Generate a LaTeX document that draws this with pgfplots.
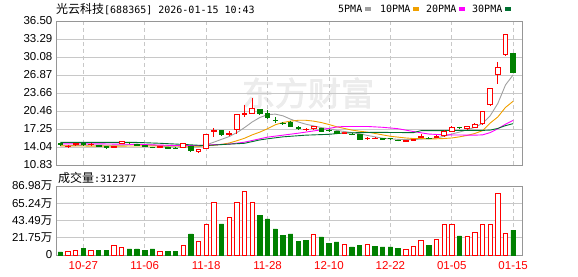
\documentclass[border=0pt]{standalone}
\usepackage{pgfplots}
\pgfplotsset{compat=1.18}
\usepackage{pgfplotstable}
\usepgfplotslibrary{statistics}
\usepackage{fontspec}
\setmainfont{Liberation Sans}
\newfontfamily\cjk{Noto Sans CJK SC}
\newfontfamily\cjkbold[FakeBold=2.5]{Noto Sans CJK SC}
\newfontfamily\mono{DejaVu Sans Mono}
\definecolor{upred}{RGB}{255,0,0}
\definecolor{dngreen}{RGB}{0,128,0}
\definecolor{maA}{RGB}{160,160,160}
\definecolor{maB}{RGB}{240,160,0}
\definecolor{maC}{RGB}{255,0,255}
\definecolor{maD}{RGB}{0,112,48}
\definecolor{gridc}{RGB}{200,200,200}
\definecolor{axisc}{RGB}{150,150,150}
\definecolor{wmark}{RGB}{236,236,236}

\pgfplotstableread{
i lo hi L H up
0 14.50 14.65 14.30 14.80 0
1 14.10 14.20 14.00 14.35 1
2 14.45 14.65 14.35 14.75 1
3 14.45 14.60 14.35 14.70 0
4 14.45 14.55 14.35 14.70 1
5 14.15 14.30 14.05 14.40 0
6 13.90 14.10 13.85 14.20 0
7 13.95 14.15 13.90 14.25 1
8 14.70 14.95 14.60 15.00 1
9 14.80 14.90 14.75 15.00 0
10 14.40 14.50 14.30 14.60 0
11 14.15 14.25 14.05 14.35 0
12 13.95 14.00 13.85 14.10 0
13 13.95 14.10 13.90 14.15 1
14 13.80 13.90 13.70 14.00 0
15 13.80 13.85 13.70 14.00 0
16 14.05 14.70 13.95 14.75 1
17 13.35 14.10 13.30 14.15 0
18 13.20 13.70 13.10 13.75 1
19 13.80 16.25 13.75 16.30 1
20 16.80 16.95 15.80 17.45 1
21 16.30 17.00 16.00 17.05 0
22 16.35 16.45 16.00 16.90 1
23 17.15 19.80 16.30 19.85 1
24 19.80 19.95 19.40 21.60 1
25 20.10 20.90 20.00 22.70 1
26 19.95 20.75 19.80 20.80 0
27 19.30 20.05 19.10 20.60 0
28 18.75 18.85 18.30 19.30 0
29 18.25 18.30 18.00 18.50 0
30 17.75 18.50 17.60 18.60 0
31 17.30 17.60 17.20 17.70 0
32 17.10 17.20 16.95 17.35 1
33 17.30 17.70 17.20 17.80 1
34 16.90 17.30 16.80 17.40 0
35 17.00 17.05 16.80 17.20 0
36 16.45 16.90 16.40 16.95 0
37 16.55 16.65 16.40 16.80 1
38 16.30 16.35 16.10 16.50 0
39 15.40 16.30 15.35 16.35 0
40 15.50 15.60 15.35 15.75 1
41 15.60 15.65 15.50 15.80 1
42 15.50 15.55 15.40 15.70 0
43 15.55 15.60 15.45 15.70 0
44 15.20 15.25 15.05 15.35 0
45 15.05 15.15 15.00 15.30 1
46 15.25 15.35 15.10 15.45 1
47 15.80 15.90 15.60 16.30 1
48 15.60 15.65 15.45 15.75 0
49 15.75 15.85 15.65 16.20 1
50 16.10 16.85 15.85 17.10 1
51 16.85 17.60 16.70 17.85 1
52 17.50 17.55 17.30 17.65 0
53 17.30 17.70 17.20 17.75 1
54 17.60 18.15 17.50 18.30 1
55 18.20 20.40 18.00 20.50 1
56 21.60 24.40 21.50 24.50 1
57 26.90 28.30 25.30 29.20 1
58 30.50 34.15 30.40 34.20 1
59 27.35 30.80 27.30 30.80 0
}\ohlc

\pgfplotsset{
  chartbase/.style={
    scale only axis, width=466pt,
    xmin=-0.56, xmax=60.15,
    xtick={3,11,19,27,35,43,51,59},
    major tick length=0pt,
    xmajorgrids, ymajorgrids,
    x grid style={color=gridc, line width=0.8pt, dash pattern=on 4pt off 3pt},
    y grid style={color=gridc, line width=0.8pt, solid},
    axis line style={color=axisc, line width=0.9pt},
    ticklabel style={font=\fontsize{11.5}{13}\selectfont},
    yticklabel style={inner sep=0pt, xshift=-3.5pt},
    clip=true,
  }
}

\begin{document}
\begin{tikzpicture}
\path[use as bounding box] (0pt,0pt) rectangle (578pt,276pt);
\node[text=wmark, font=\cjkbold\fontsize{33}{33}\selectfont, inner sep=0, anchor=center] at (308pt,183pt) {东方财富};

\begin{axis}[chartbase, at={(56pt,111pt)}, anchor=south west, height=144pt,
  ymin=10.83, ymax=36.50,
  ytick={10.83,14.04,17.25,20.46,23.66,26.87,30.08,33.29,36.50},
  yticklabels={10.83,14.04,17.25,20.46,23.66,26.87,30.08,33.29,36.50},
  xticklabels={}, boxplot/draw direction=y]
% MA5
\addplot[color=maA, line width=0.9pt, mark=none] coordinates {
(0,14.25)(2,14.3)(4,14.4)(6,14.35)(8,14.35)(10,14.55)(12,14.4)(14,14.1)(16,14.0)(18,14.05)(19,14.4)(20,14.9)(21,15.4)(22,15.9)(23,16.6)(24,17.5)(25,18.5)(26,19.3)(27,19.8)(28,19.9)(29,19.6)(30,19.0)(31,18.5)(32,18.1)(33,17.8)(34,17.5)(35,17.3)(36,17.0)(37,16.8)(38,16.6)(39,16.4)(40,16.1)(41,15.85)(42,15.6)(43,15.5)(44,15.4)(45,15.35)(46,15.35)(47,15.45)(48,15.5)(49,15.65)(50,15.95)(51,16.35)(52,16.7)(53,17.1)(54,17.55)(55,18.25)(56,19.6)(57,21.8)(58,25.1)(59,26.9)};
% MA10
\addplot[color=maB, line width=0.9pt, mark=none] coordinates {
(0,14.25)(4,14.2)(8,14.2)(12,14.25)(16,14.2)(18,14.2)(19,14.25)(20,14.35)(21,14.5)(22,14.75)(23,15.15)(24,15.6)(25,16.2)(26,16.7)(27,17.3)(28,18.0)(29,18.4)(30,18.65)(31,18.8)(32,18.8)(33,18.65)(34,18.4)(35,18.05)(36,17.65)(37,17.35)(38,17.05)(39,16.85)(40,16.7)(41,16.45)(42,16.2)(43,15.95)(44,15.8)(45,15.65)(46,15.55)(47,15.55)(48,15.5)(49,15.5)(50,15.55)(51,15.65)(52,15.85)(53,16.1)(54,16.45)(55,16.95)(56,18.3)(57,19.4)(58,21.1)(59,22.2)};
% MA20
\addplot[color=maC, line width=0.9pt, mark=none] coordinates {
(0,14.6)(5,14.6)(10,14.5)(15,14.3)(18,14.3)(19,14.4)(22,14.55)(24,14.9)(27,15.8)(31,16.5)(34,17.1)(36,17.6)(37,17.7)(40,17.7)(42,17.55)(44,17.3)(46,16.8)(48,16.35)(50,16.2)(54,16.15)(55,16.2)(56,16.6)(57,17.3)(58,18.1)(59,18.8)};
% MA30
\addplot[color=maD, line width=0.9pt, mark=none] coordinates {
(0,14.85)(10,14.85)(13,14.7)(16,14.5)(18,14.35)(19,14.3)(22,14.55)(24,14.7)(26,15.3)(27,15.5)(29,15.85)(32,16.15)(35,16.3)(37,16.55)(41,16.65)(46,16.6)(47,16.95)(55,17.0)(56,17.05)(57,17.35)(58,17.85)(59,18.2)};
% candles
\pgfplotsinvokeforeach{0,...,59}{
  \pgfplotstablegetelem{#1}{L}\of\ohlc \let\cL\pgfplotsretval
  \pgfplotstablegetelem{#1}{H}\of\ohlc \let\cH\pgfplotsretval
  \pgfplotstablegetelem{#1}{lo}\of\ohlc \let\clo\pgfplotsretval
  \pgfplotstablegetelem{#1}{hi}\of\ohlc \let\chi\pgfplotsretval
  \pgfplotstablegetelem{#1}{up}\of\ohlc
  \ifnum\pgfplotsretval=1
    \def\cdraw{upred}\def\cfill{white}%
  \else
    \def\cdraw{dngreen}\def\cfill{dngreen}%
  \fi
  \edef\doplot{\noexpand\addplot[draw=\cdraw, fill=\cfill, line width=0.8pt, solid,
      boxplot prepared={draw direction=y, draw position=#1, box extend=0.6, whisker extend=0,
        lower whisker=\cL, upper whisker=\cH, lower quartile=\clo, upper quartile=\chi, median=\clo}] coordinates {};}%
  \doplot
}
\end{axis}

\begin{axis}[chartbase, at={(56pt,21pt)}, anchor=south west, height=69pt,
  ymin=0, ymax=86.98,
  ytick={0,21.75,43.49,65.24,86.98},
  yticklabels={0,21.75{\cjk 万},43.49{\cjk 万},65.24{\cjk 万},86.98{\cjk 万}},
  xticklabels={10-27,11-06,11-18,11-28,12-10,12-22,01-05,01-15},
  xticklabel style={text=upred, inner sep=0pt, yshift=-6.5pt}]
\addplot[ybar, bar width=0.57, bar shift=0pt, draw=upred, fill=white, line width=0.8pt] coordinates {
(1,5.0)(2,5.9)(4,5.9)(7,12.2)(8,9.7)(13,5.0)(16,12.2)(18,17.6)(19,38.7)(20,66.4)(22,47.5)(23,66.4)(24,80.3)(25,66.4)(33,26.1)(37,13.4)(40,13.4)(45,7.1)(46,10.9)(47,18.5)(49,19.7)(50,38.7)(51,38.7)(53,23.5)(54,29.0)(55,38.7)(56,38.7)(57,77.7)(58,27.3)};
\addplot[ybar, bar width=0.57, bar shift=0pt, draw=dngreen, fill=dngreen, line width=0.8pt] coordinates {
(0,3.8)(3,8.8)(5,6.3)(6,6.3)(9,7.6)(10,7.6)(11,6.3)(12,7.6)(14,5.0)(15,4.2)(17,26.5)(21,39.1)(26,50.4)(27,45.4)(28,32.8)(29,25.2)(30,26.5)(31,16.8)(32,18.9)(34,22.7)(35,15.1)(36,16.4)(38,10.1)(39,12.2)(41,11.3)(42,10.1)(43,10.1)(44,8.8)(48,12.6)(52,24.0)(59,31.24)};
\end{axis}

% header
\node[anchor=base west, inner sep=0] at (56pt,262pt) {{\cjk\fontsize{12}{12}\selectfont 光云科技}{\mono\fontsize{10}{10}\selectfont[688365] 2026-01-15 10:43}};
\node[anchor=base west, inner sep=0, font=\mono\fontsize{10}{10}\selectfont] at (338pt,263pt) {5PMA\hspace{3pt}\textcolor{maA}{\rule[2pt]{5.5pt}{3.5pt}}};
\node[anchor=base west, inner sep=0, font=\mono\fontsize{10}{10}\selectfont] at (380pt,263pt) {10PMA\hspace{3pt}\textcolor{maB}{\rule[2pt]{5.5pt}{3.5pt}}};
\node[anchor=base west, inner sep=0, font=\mono\fontsize{10}{10}\selectfont] at (426pt,263pt) {20PMA\hspace{3pt}\textcolor{maC}{\rule[2pt]{5.5pt}{3.5pt}}};
\node[anchor=base west, inner sep=0, font=\mono\fontsize{10}{10}\selectfont] at (472pt,263pt) {30PMA\hspace{3pt}\textcolor{maD}{\rule[2pt]{5.5pt}{3.5pt}}};
\node[anchor=base west, inner sep=0] at (58pt,94pt) {{\cjk\fontsize{12}{12}\selectfont 成交量}{\mono\fontsize{10}{10}\selectfont:312377}};
\end{tikzpicture}
\end{document}
